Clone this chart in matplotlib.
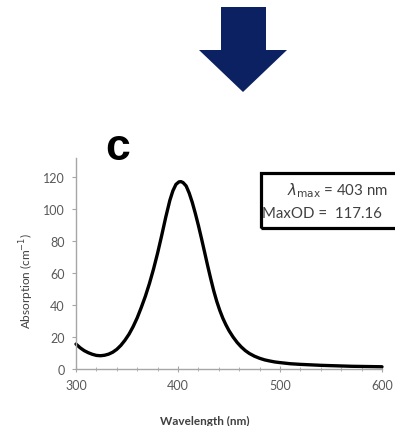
"""Absorption spectrum panel (c) with a down arrow above it."""

import matplotlib
matplotlib.use("Agg")
import matplotlib.pyplot as plt
from matplotlib.patches import Polygon, Rectangle
from matplotlib.ticker import MultipleLocator

plt.rcParams["font.family"] = ["Lato", "DejaVu Sans"]

# spectrum
wavelength = [300, 304, 308, 312, 316, 320, 324, 328, 332, 336, 340, 344, 348, 352,
              356, 360, 364, 368, 372, 376, 380, 384, 388, 392, 395, 398, 401, 403,
              405, 408, 411, 414, 417, 420, 423, 426, 429, 432, 435, 438, 441, 444,
              447, 450, 454, 458, 462, 466, 470, 475, 480, 485, 490, 495, 500, 510,
              520, 530, 540, 550, 560, 570, 580, 590, 600]
absorption = [15.6, 13.3, 11.5, 10.2, 9.2, 8.5, 8.3, 8.6, 9.3, 10.5, 12.3, 14.8, 18.0, 21.8,
              26.5, 32.0, 38.5, 45.5, 53.5, 62.5, 72.5, 83.5, 95.0, 105.5, 111.5, 115.5, 117.1, 117.2,
              116.6, 114.5, 110.0, 104.2, 97.3, 89.8, 81.7, 73.3, 64.8, 56.7, 49.0, 42.3, 36.6, 31.7,
              27.6, 24.0, 20.0, 16.6, 13.8, 11.5, 9.7, 8.0, 6.7, 5.7, 5.0, 4.4, 4.0, 3.3,
              2.9, 2.6, 2.3, 2.1, 1.9, 1.7, 1.6, 1.5, 1.4]
x_ticks = [300, 400, 500, 600]
y_ticks = [0, 20, 40, 60, 80, 100, 120]
peak_text = [r"$\lambda_{\rm max}$ = 403 nm", "MaxOD =  117.16"]

W, H = 395, 427
fig = plt.figure(figsize=(W / 100, H / 100), dpi=100)

# overlay in pixel coordinates for the arrow
over = fig.add_axes([0, 0, 1, 1], zorder=0)
over.set_xlim(0, W)
over.set_ylim(H, 0)
over.axis("off")
arrow = [(221, 8), (266, 8), (266, 51), (287, 51), (243, 93), (199, 51), (221, 51)]
over.add_patch(Polygon(arrow, closed=True, facecolor="#0b2161", edgecolor="none"))

ax = fig.add_axes([76 / W, (H - 370) / H, 306 / W, 211 / H], zorder=1)
ax.patch.set_alpha(0)
ax.plot(wavelength, absorption, color="black", linewidth=2.4, solid_capstyle="round",
        solid_joinstyle="round", clip_on=False)
ax.set_xlim(300, 600)
ax.set_ylim(0, 132)
ax.set_xticks(x_ticks)
ax.set_yticks(y_ticks)
ax.xaxis.set_minor_locator(MultipleLocator(20))
for side in ("top", "right"):
    ax.spines[side].set_visible(False)
for side in ("left", "bottom"):
    ax.spines[side].set_color("#a6a6a6")
    ax.spines[side].set_linewidth(1.0)
ax.tick_params(axis="both", which="both", colors="#a6a6a6", labelcolor="#595959", labelsize=9)
ax.tick_params(axis="x", which="major", direction="inout", length=5, pad=5)
ax.tick_params(axis="x", which="minor", direction="inout", length=3)
ax.tick_params(axis="y", which="major", direction="out", length=3, pad=5)

ax.set_xlabel("Wavelength (nm)", fontsize=8.5, fontweight="bold", color="#404040")
ax.xaxis.set_label_coords(0.42, -0.22)
ax.set_ylabel("Absorption (cm$^{-1}$)", fontsize=8.5, color="#404040")
ax.yaxis.set_label_coords(-0.13, 0.42)

ax.text(0.135, 1.05, "c", transform=ax.transAxes, fontsize=32, fontweight="bold",
        family="Liberation Sans", ha="center", va="center")

box = Rectangle((0.605, 0.668), 0.8, 0.26, transform=ax.transAxes, fill=False,
                edgecolor="black", linewidth=2.3, clip_on=False)
ax.add_artist(box)
ax.text(0.69, 0.85, peak_text[0], transform=ax.transAxes, fontsize=10.8, color="#404040",
        ha="left", va="center")
ax.text(0.608, 0.74, peak_text[1], transform=ax.transAxes, fontsize=10.8, color="#404040",
        ha="left", va="center")

fig.savefig("out.png", dpi=100)
